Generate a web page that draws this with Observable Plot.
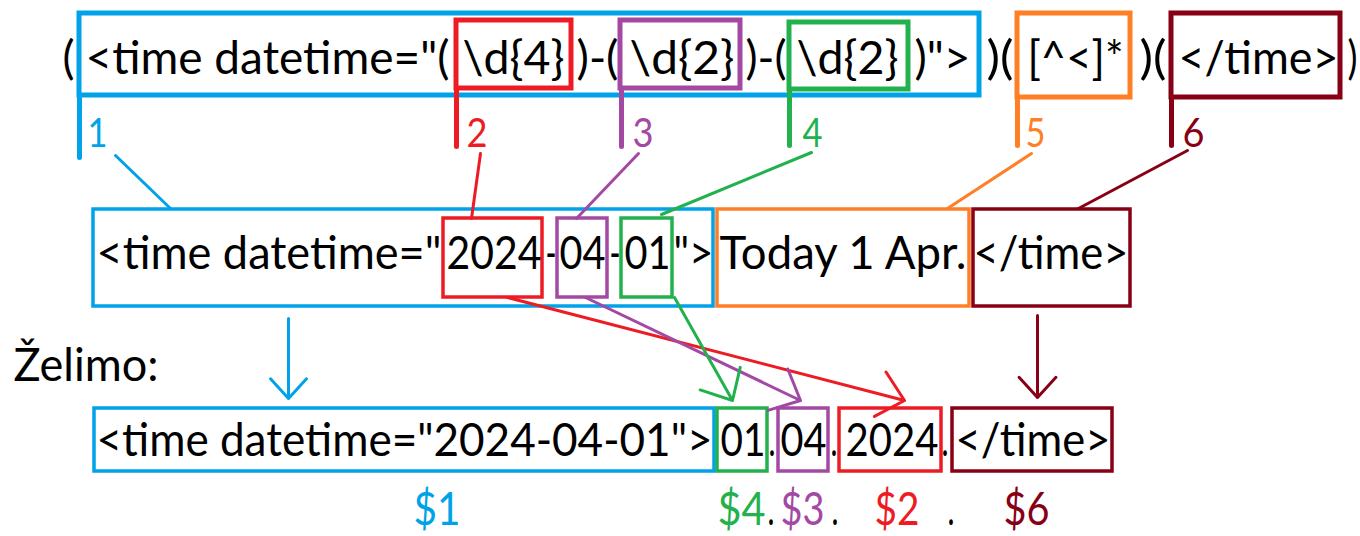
<!DOCTYPE html>
<html><head><meta charset="utf-8">
<script src="https://cdn.jsdelivr.net/npm/d3@7"></script>
<script src="https://cdn.jsdelivr.net/npm/@observablehq/plot@0.6"></script>
<style>html,body{margin:0;padding:0;background:#fff;}</style>
</head><body><div id="chart"></div>
<script>
// Paint palette: group 1..6
const groupNames = ["1","2","3","4","5","6"];
const groupColors = ["#00a2e8","#ed1c24","#a349a4","#22b14c","#ff7f27","#880015"];
const black = "#000000";

// ---- text segments ----
const textStr = [
  // regex row
  "(", '<time datetime="(', "\\d{4}", ")-(", "\\d{2}", ")-(", "\\d{2}", ')">', ")(", "[^<]*", ")(", "</time>", ")",
  // group numbers
  "1","2","3","4","5","6",
  // input row
  '<time datetime="', "2024", "-", "04", "-", "01", '">', "Today 1 Apr.", "</time>",
  // label
  "Želimo:",
  // output row
  '<time datetime="2024-04-01">', "01", ".", "04", ".", "2024", ".", "</time>",
  // replacement
  "$1", "$4", ".", "$3", ".", "$2", ".", "$6"
];
const textX = [
  62, 85, 462, 576, 629, 745, 796, 914, 986, 1027, 1139, 1178, 1347,
  87, 466, 632, 802, 1025, 1182,
  96, 446, 545, 559, 609, 624, 673, 719, 973,
  13,
  96, 720, 768, 780, 830, 845, 941, 955,
  413, 717, 767, 780, 831, 874, 947, 1003
];
const textY = [
  73,73,73,73,73,73,73,73,73,73,73,73,73,
  146,146,146,146,146,146,
  268,268,268,268,268,268,268,268,268,
  380,
  455,455,455,455,455,455,455,455,
  524,524,524,524,524,524,524,524
];
const textW = [
  12, 364, 102, 42, 105, 41, 102, 56, 27, 96, 27, 160, 10,
  20, 21, 21, 20, 20, 22,
  345, 95, 11, 46, 11, 46, 40, 247, 155,
  145,
  616, 45, 7, 46, 7, 93, 7, 155,
  47, 48, 7, 44, 7, 45, 7, 46
];
const textSize = [
  ...Array(13).fill(46), ...Array(6).fill(40), ...Array(9).fill(46), 46,
  ...Array(8).fill(46), ...Array(8).fill(46)
];
const textColor = [
  ...Array(13).fill(black), ...groupColors, ...Array(9).fill(black), black,
  ...Array(8).fill(black),
  groupColors[0], groupColors[3], black, groupColors[2], black, groupColors[1], black, groupColors[5]
];

// ---- boxes (group index, x1, x2, y1, y2) ----
const boxGroup = [0,1,2,3,4,5, 0,1,2,3,4,5, 0,3,2,1,5];
const boxX1 = [79,456,620,789,1017,1171, 93,443,557,621,717,973, 94,717,778,839,952];
const boxX2 = [979,571,740,908,1130,1340, 713,542,607,672,969,1130, 714,767,828,941,1112];
const boxY1 = [13,20,20,22,13,13, 209,218,218,218,209,209, 408,408,408,408,408];
const boxY2 = [95,88,88,89,97,97, 306,297,297,297,306,306, 471,471,471,471,471];
const boxSW = [5,5,5,5,5,5, 3.5,3.5,3.5,3.5,3.5,3.5, 3.5,3.5,3.5,3.5,3.5];

// ---- stems below the regex groups ----
const stemGroup = [0,1,2,3,4,5];
const stemX = [79,456,621,789,1017,1171];
const stemY1 = [95,88,88,89,97,97];
const stemY2 = [157,146,146,145,145,145];

// ---- connectors from group number to the matched part ----
const connGroup = [0,1,2,3,4,5];
const connX1 = [115,480,638,811,1031,1187];
const connY1 = [155,153,153,152,153,150];
const connX2 = [170,471,576,661,947,1078];
const connY2 = [208,218,218,214,208,208];

// ---- arrows to the result ----
const arrGroup = [0,5,1,2,3];
const arrX1 = [288,1037,507,585,674];
const arrY1 = [318,315,297,297,297];
const arrX2 = [288,1037,904,800,732];
const arrY2 = [398,397,400,400,400];

const texts = textStr.map((t,i)=>({t, x:textX[i], y:textY[i], w:textW[i], s:textSize[i], c:textColor[i]}));
const boxes = boxGroup.map((g,i)=>({c:groupColors[g], x1:boxX1[i], x2:boxX2[i], y1:boxY1[i], y2:boxY2[i], sw:boxSW[i]}));
const stems = stemGroup.map((g,i)=>({c:groupColors[g], x1:stemX[i], x2:stemX[i], y1:stemY1[i], y2:stemY2[i]}));
const conns = connGroup.map((g,i)=>({c:groupColors[g], x1:connX1[i], x2:connX2[i], y1:connY1[i], y2:connY2[i]}));
const arrs = arrGroup.map((g,i)=>({c:groupColors[g], x1:arrX1[i], x2:arrX2[i], y1:arrY1[i], y2:arrY2[i]}));

const svg = Plot.plot({
  width: 1360, height: 536,
  margin: 0,
  x: {domain:[0,1360], range:[0,1360], axis:null},
  y: {domain:[0,536], range:[0,536], axis:null},
  color: {type:"identity"},
  style: {background:"white"},
  marks: [
    Plot.rect(boxes, {x1:"x1", x2:"x2", y1:"y1", y2:"y2", fill:"none", stroke:"c", strokeWidth:"sw"}),
    Plot.link(stems, {x1:"x1", x2:"x2", y1:"y1", y2:"y2", stroke:"c", strokeWidth:5, strokeLinecap:"round"}),
    Plot.link(conns, {x1:"x1", x2:"x2", y1:"y1", y2:"y2", stroke:"c", strokeWidth:3, strokeLinecap:"round"}),
    Plot.arrow(arrs, {x1:"x1", x2:"x2", y1:"y1", y2:"y2", stroke:"c", strokeWidth:3, headLength:17, headAngle:85, bend:0}),
    Plot.text(texts, {x:"x", y:"y", text:"t", fill:"c", fontSize:"s", textAnchor:"start", lineAnchor:"bottom", fontFamily:"Lato"})
  ]
});
d3.select(svg).selectAll('g[aria-label="text"] text').each(function(i){
  const w = texts[i] && texts[i].w;
  if (w) { this.setAttribute("textLength", w); this.setAttribute("lengthAdjust", "spacingAndGlyphs"); }
});
document.getElementById("chart").appendChild(svg);
</script>
</body></html>
